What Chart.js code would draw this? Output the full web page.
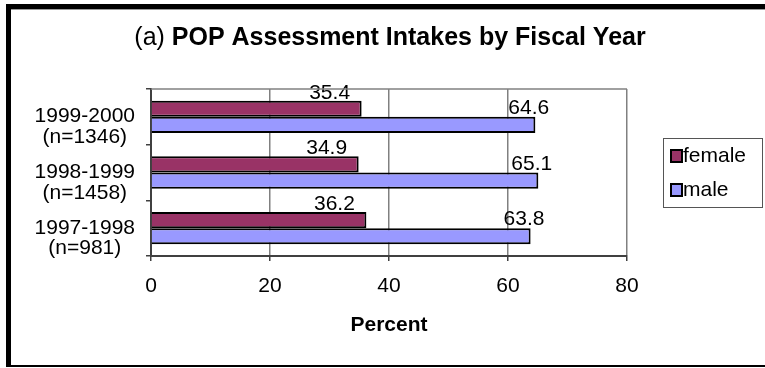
<!DOCTYPE html>
<html>
<head>
<meta charset="utf-8">
<script src="https://cdn.jsdelivr.net/npm/chart.js@4.4.0/dist/chart.umd.min.js"></script>
<style>
  html, body { margin: 0; padding: 0; background: #fff; }
  #myChart { display: block; }
</style>
</head>
<body>
<canvas id="myChart" width="765" height="368"></canvas>
<script>
// fiscal years, top to bottom
var years = [['1999-2000', '(n=1346)'], ['1998-1999', '(n=1458)'], ['1997-1998', '(n=981)']];
var female = [35.4, 34.9, 36.2];
var male = [64.6, 65.1, 63.8];
var xTicks = [0, 20, 40, 60, 80];

var FONT = "'Liberation Sans', Arial, sans-serif";
Chart.defaults.font.family = FONT;
Chart.defaults.font.size = 21;
Chart.defaults.color = '#000';

// outer frame + plot top edge
var framePlugin = {
  id: 'frame',
  beforeDraw: function(chart) {
    var ctx = chart.ctx;
    ctx.save();
    ctx.fillStyle = '#fff';
    ctx.fillRect(0, 0, chart.width, chart.height);
    ctx.fillStyle = '#000';
    ctx.fillRect(6, 4, 5, 363);     // left
    ctx.fillRect(6, 4, 759, 5);     // top
    ctx.fillRect(6, 365, 759, 2);   // bottom
    ctx.fillStyle = '#999';
    ctx.fillRect(11, 9, 754, 1);
    ctx.restore();
  },
  afterDraw: function(chart) {
    var a = chart.chartArea, ctx = chart.ctx;
    ctx.save();
    ctx.strokeStyle = '#808080';
    ctx.lineWidth = 1.5;
    ctx.beginPath();
    ctx.moveTo(a.left, a.top);
    ctx.lineTo(a.right, a.top);
    ctx.stroke();
    ctx.restore();
  }
};

// "(a)" regular, rest bold
var titlePlugin = {
  id: 'mixedTitle',
  afterDraw: function(chart) {
    var ctx = chart.ctx;
    var pre = '(a) ', main = 'POP Assessment Intakes by Fiscal Year';
    ctx.save();
    ctx.fillStyle = '#000';
    ctx.textBaseline = 'alphabetic';
    ctx.font = '25px ' + FONT;
    var w1 = ctx.measureText(pre).width;
    ctx.font = 'bold 25px ' + FONT;
    var w2 = ctx.measureText(main).width;
    var x = 390 - (w1 + w2) / 2;
    ctx.font = '25px ' + FONT;
    ctx.fillText(pre, x, 45);
    ctx.font = 'bold 25px ' + FONT;
    ctx.fillText(main, x + w1, 45);
    ctx.restore();
  }
};

// value labels above each bar
var labelPlugin = {
  id: 'barLabels',
  afterDatasetsDraw: function(chart) {
    var ctx = chart.ctx;
    ctx.save();
    ctx.font = '21px ' + FONT;
    ctx.fillStyle = '#000';
    ctx.textBaseline = 'alphabetic';
    chart.data.datasets.forEach(function(ds, i) {
      chart.getDatasetMeta(i).data.forEach(function(bar, j) {
        var top = bar.y - bar.height / 2;
        var txt = ds.data[j].toFixed(1);
        if (i === 0) {
          ctx.textAlign = 'center';
          ctx.fillText(txt, bar.x - 32, top - 2);
        } else {
          ctx.textAlign = 'left';
          ctx.fillText(txt, bar.x - 27, top - 3);
        }
      });
    });
    ctx.restore();
  }
};

// boxed legend on the right
var legendPlugin = {
  id: 'boxLegend',
  afterDraw: function(chart) {
    var ctx = chart.ctx;
    ctx.save();
    ctx.strokeStyle = '#555';
    ctx.lineWidth = 1;
    ctx.strokeRect(663.5, 138.5, 99, 69);
    ctx.font = '21px ' + FONT;
    ctx.textBaseline = 'middle';
    ctx.textAlign = 'left';
    chart.data.datasets.forEach(function(ds, i) {
      var cy = 156 + i * 34;
      ctx.fillStyle = ds.backgroundColor;
      ctx.fillRect(671, cy - 6, 11, 12);
      ctx.strokeStyle = '#000';
      ctx.lineWidth = 2;
      ctx.strokeRect(671, cy - 6, 11, 12);
      ctx.fillStyle = '#000';
      ctx.fillText(ds.label, 683, cy);
    });
    ctx.restore();
  }
};

var ctx = document.getElementById('myChart').getContext('2d');
var myChart = new Chart(ctx, {
  type: 'bar',
  data: {
    labels: years,
    datasets: [
      { label: 'female', data: female, backgroundColor: '#993366', borderColor: '#000', borderWidth: 2 },
      { label: 'male', data: male, backgroundColor: '#9999FF', borderColor: '#000', borderWidth: 2 }
    ]
  },
  options: {
    indexAxis: 'y',
    responsive: false,
    animation: false,
    devicePixelRatio: 1,
    categoryPercentage: 0.58,
    barPercentage: 1.0,
    layout: { padding: { left: 0, top: 89, right: 138, bottom: 0 } },
    plugins: {
      legend: { display: false },
      tooltip: { enabled: false }
    },
    scales: {
      x: {
        min: xTicks[0],
        max: xTicks[xTicks.length - 1],
        afterBuildTicks: function(scale) {
          scale.ticks = xTicks.map(function(v) { return { value: v }; });
        },
        afterFit: function(scale) { scale.height = 112; },
        grid: { color: '#808080', lineWidth: 1.5, tickLength: 5, tickColor: '#404040' },
        border: { color: '#404040', width: 2 },
        ticks: { padding: 13, font: { size: 21 }, color: '#000' },
        title: {
          display: true,
          text: 'Percent',
          font: { size: 21, weight: 'bold' },
          padding: { top: 0, bottom: 30 }
        }
      },
      y: {
        afterFit: function(scale) { scale.width = 151; },
        grid: { drawOnChartArea: false, tickLength: 5, color: '#404040', lineWidth: 1.5 },
        border: { color: '#404040', width: 2 },
        ticks: {
          crossAlign: 'center',
          padding: 11,
          labelOffset: 10,
          font: { size: 21, lineHeight: 0.98 },
          color: '#000'
        }
      }
    }
  },
  plugins: [framePlugin, titlePlugin, labelPlugin, legendPlugin]
});
</script>
</body>
</html>
